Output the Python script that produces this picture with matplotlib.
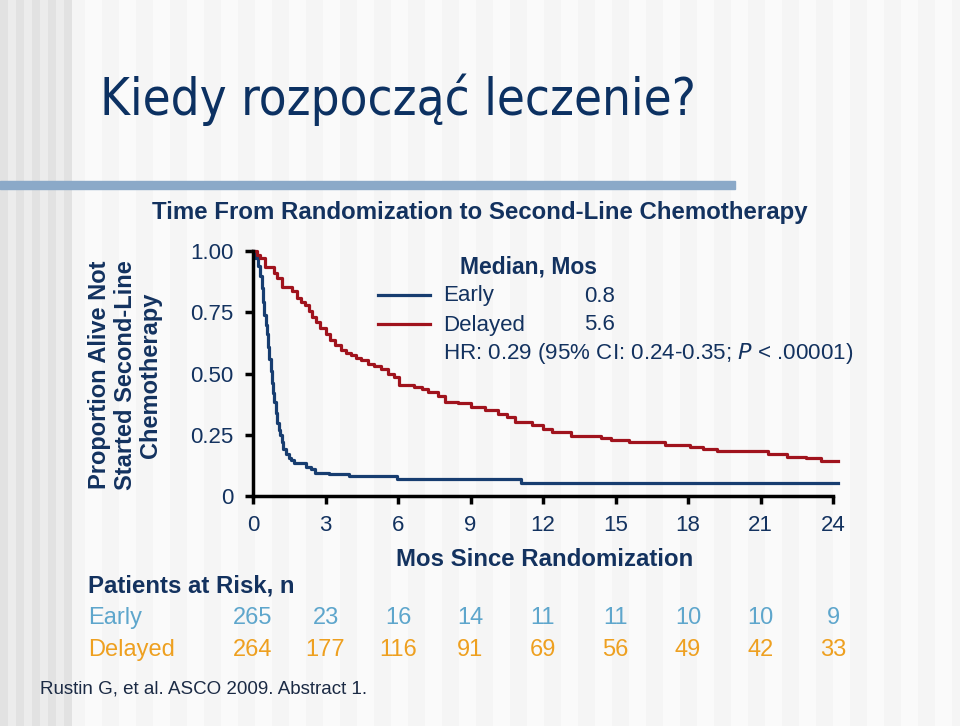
import numpy as np
import matplotlib
matplotlib.use("Agg")
import matplotlib.pyplot as plt

# Kaplan-Meier style curves (months, proportion)
early_t = [0, 0.10, 0.22, 0.30, 0.36, 0.42, 0.46, 0.52, 0.57, 0.63, 0.68, 0.73, 0.78, 0.83,
           0.88, 0.94, 0.99, 1.06, 1.13, 1.20, 1.26, 1.36, 1.47, 1.58, 1.68, 2.20, 2.38,
           2.58, 3.14, 3.97, 5.96, 11.1, 24.2]
early_s = [1.0, 0.97, 0.94, 0.90, 0.85, 0.79, 0.74, 0.70, 0.66, 0.61, 0.56, 0.51, 0.46, 0.42,
           0.385, 0.34, 0.30, 0.27, 0.25, 0.22, 0.19, 0.17, 0.155, 0.145, 0.135, 0.12, 0.11,
           0.095, 0.088, 0.08, 0.068, 0.052, 0.052]

delayed_t = [0, 0.15, 0.29, 0.50, 0.85, 0.99, 1.19, 1.61, 1.82, 2.0, 2.17, 2.30, 2.44, 2.60,
             2.79, 3.0, 3.2, 3.4, 3.63, 3.85, 4.04, 4.25, 4.46, 4.74, 5.01, 5.29, 5.6, 5.85,
             6.05, 6.68, 7.0, 7.24, 7.65, 7.93, 8.49, 9.04, 9.6, 10.15, 10.5, 10.85, 11.54,
             12.0, 12.38, 13.14, 14.39, 14.8, 15.57, 17.03, 18.07, 18.63, 19.18, 21.3, 22.1,
             22.9, 23.5, 24.2]
delayed_s = [1.0, 0.985, 0.97, 0.936, 0.91, 0.89, 0.854, 0.835, 0.807, 0.79, 0.78, 0.755, 0.73,
             0.71, 0.684, 0.66, 0.637, 0.615, 0.596, 0.585, 0.575, 0.565, 0.555, 0.54, 0.532,
             0.52, 0.50, 0.487, 0.453, 0.446, 0.435, 0.426, 0.41, 0.385, 0.381, 0.364, 0.351,
             0.335, 0.324, 0.303, 0.29, 0.275, 0.262, 0.245, 0.235, 0.229, 0.219, 0.208, 0.201,
             0.192, 0.185, 0.17, 0.16, 0.154, 0.144, 0.144]

x_ticks = [0, 3, 6, 9, 12, 15, 18, 21, 24]
y_ticks = [0, 0.25, 0.50, 0.75, 1.00]
y_tick_labels = ["0", "0.25", "0.50", "0.75", "1.00"]
risk_early = [265, 23, 16, 14, 11, 11, 10, 10, 9]
risk_delayed = [264, 177, 116, 91, 69, 56, 49, 42, 33]

navy = "#13325f"
blue_line = "#173d70"
red_line = "#a0131d"
early_col = "#5ea6cc"
delayed_col = "#eea020"
narrow = ["Liberation Sans Narrow", "Liberation Sans"]
arial = ["Liberation Sans", "DejaVu Sans"]

W, H = 960, 726
fig = plt.figure(figsize=(9.6, 7.26), dpi=100)

def fx(x):
    return x / W

def fy(y):
    return 1 - y / H

# striped slide background
bg = fig.add_axes([0, 0, 1, 1], zorder=-10)
cols = np.arange(W)
shade = np.where((cols // 17) % 2 == 0, 0.958, 0.978)
left = cols < 72
shade[left] = np.where((cols[left] // 8) % 2 == 0, 0.885, 0.925)
bg.imshow(np.tile(shade, (2, 1)), cmap="gray", vmin=0, vmax=1, aspect="auto",
          extent=[0, 1, 0, 1])
bg.add_patch(plt.Rectangle((0, fy(188.5)), fx(735), (188.5 - 181.5) / H,
                           color="#8ba9c8", transform=bg.transAxes))
bg.axis("off")

fig.text(fx(398), fy(100), "Kiedy rozpocząć leczenie?", fontsize=36.5, color="#0c3162",
         ha="center", va="center", family=["DejaVu Sans"], fontstretch="condensed")
fig.text(fx(480), fy(212), "Time From Randomization to Second-Line Chemotherapy",
         fontsize=17.3, fontweight="bold", color=navy, ha="center", va="center", family=narrow)

# main plot
ax = fig.add_axes([fx(253), fy(496), fx(833 - 253), (496 - 251) / H])
ax.patch.set_alpha(0)
ax.step(early_t, early_s, where="post", color=blue_line, lw=2.3, clip_on=False)
ax.step(delayed_t, delayed_s, where="post", color=red_line, lw=2.3, clip_on=False)
ax.set_xlim(0, 24)
ax.set_ylim(0, 1)
for s in ["top", "right"]:
    ax.spines[s].set_visible(False)
for s in ["left", "bottom"]:
    ax.spines[s].set_linewidth(2.5)
ax.set_xticks(x_ticks)
ax.set_yticks(y_ticks)
ax.set_yticklabels(y_tick_labels)
ax.tick_params(width=2.5, length=6, labelsize=16, labelcolor=navy, pad=8)
for lab in ax.get_xticklabels() + ax.get_yticklabels():
    lab.set_family(arial)

fig.text(fx(125), fy(375), "Proportion Alive Not\nStarted Second-Line\nChemotherapy",
         rotation=90, fontsize=17, fontweight="bold", color=navy, ha="center",
         va="center", multialignment="center", linespacing=1.12, family=arial)
fig.text(fx(545), fy(560), "Mos Since Randomization", fontsize=17.3, fontweight="bold",
         color=navy, ha="center", va="center", family=narrow)

# legend block
fig.text(fx(528), fy(267), "Median, Mos", fontsize=16.5, fontweight="bold", color=navy,
         ha="center", va="center", family=arial)
fig.add_artist(plt.Line2D([fx(378), fx(430)], [fy(295), fy(295)], color=blue_line, lw=2.3))
fig.add_artist(plt.Line2D([fx(378), fx(430)], [fy(324), fy(324)], color=red_line, lw=2.3))
fig.text(fx(443), fy(296), "Early", fontsize=16, color=navy, va="center", family=arial)
fig.text(fx(584), fy(296), "0.8", fontsize=16, color=navy, va="center", family=arial)
fig.text(fx(443), fy(325), "Delayed", fontsize=16, color=navy, va="center", family=arial)
fig.text(fx(584), fy(325), "5.6", fontsize=16, color=navy, va="center", family=arial)
fig.text(fx(443), fy(354), r"HR: 0.29 (95% CI: 0.24-0.35; $\it{P}$ < .00001)", fontsize=16.1,
         color=navy, va="center", family=arial)

# patients at risk table
fig.text(fx(88), fy(586), "Patients at Risk, n", fontsize=17.3, fontweight="bold",
         color=navy, va="center", family=narrow)
fig.text(fx(88), fy(618), "Early", fontsize=17, color=early_col, va="center", family=narrow)
fig.text(fx(88), fy(650), "Delayed", fontsize=17, color=delayed_col, va="center", family=narrow)
for t, n1, n2 in zip(x_ticks, risk_early, risk_delayed):
    xx = ax.transData.transform((t, 0))[0] / W
    fig.text(xx, fy(618), str(n1), fontsize=17, color=early_col, ha="center",
             va="center", family=narrow)
    fig.text(xx, fy(650), str(n2), fontsize=17, color=delayed_col, ha="center",
             va="center", family=narrow)

fig.text(fx(40), fy(689), "Rustin G, et al. ASCO 2009. Abstract 1.", fontsize=13.5,
         color="#1b2a44", va="center", family=narrow)

fig.savefig("out.png", dpi=100)
